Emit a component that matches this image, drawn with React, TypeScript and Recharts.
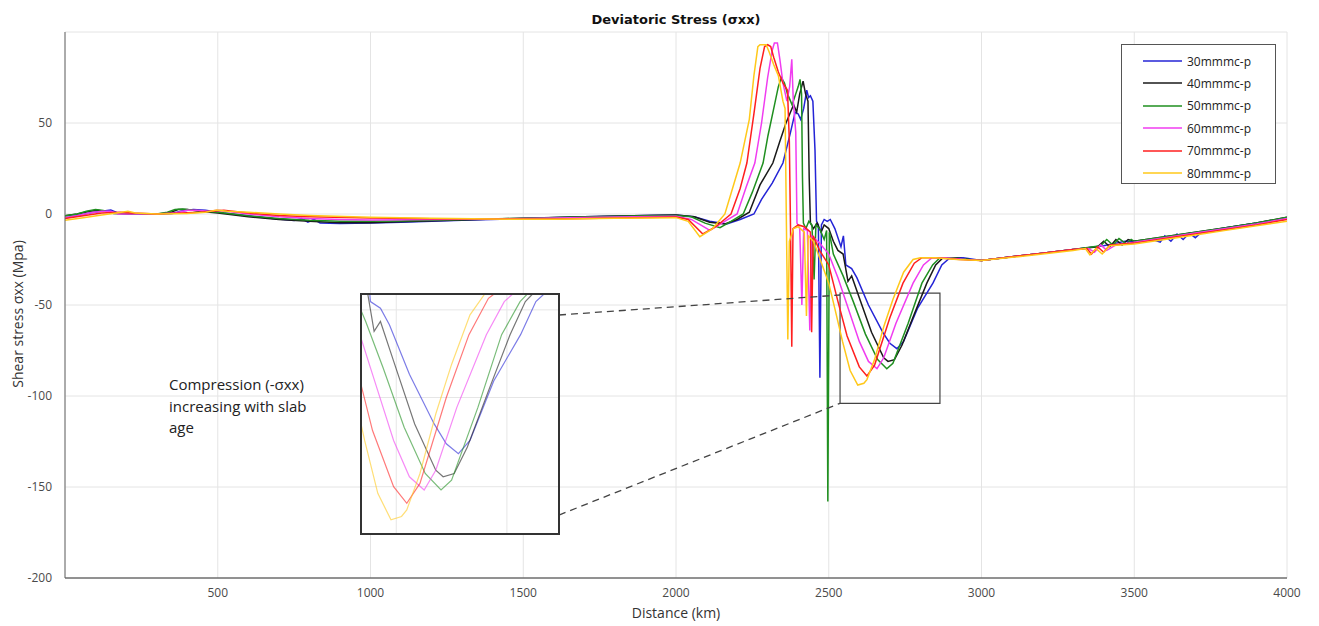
import React from 'react';
import { LineChart, Line, XAxis, YAxis, CartesianGrid, ReferenceArea, ReferenceLine } from 'recharts';

type Pt = [number, number];

const s30: Pt[] = [
  [0,-2],[40,-1],[80,0.5],[120,1.5],[150,2.2],[175,0.5],[220,0],[300,0],[350,0.3],[380,1.5],[420,2.5],[460,2],[520,0.5],[600,-1],[680,-2.5],[750,-3.5],[775,-2.5],[795,-4.5],[815,-3],[835,-5],[900,-5.2],[1000,-5],[1100,-4.5],[1300,-3.5],[1500,-2.5],[1700,-1.5],[1900,-0.8],[2000,-0.5],[2060,-1.5],[2110,-4],[2166,-5.5],[2210,-3],[2255,0],[2280,8],[2315,17],[2350,28],[2375,45],[2390,56],[2400,55],[2408,52],[2418,58],[2428,68],[2434,64],[2440,65],[2448,62],[2455,35],[2460,-4],[2466,-6],[2471,-90],[2476,-6],[2485,-3],[2495,-4],[2505,-3],[2520,-8],[2540,-18],[2548,-12],[2556,-28],[2575,-30],[2592,-35],[2630,-50],[2677,-65],[2700,-71],[2723,-74],[2745,-70],[2790,-52],[2841,-38],[2870,-28],[2897,-24],[2940,-24],[3000,-25.5],[3100,-23.5],[3200,-21.5],[3300,-19.5],[3400,-17.5],[3440,-16],[3470,-15],[3500,-15],[3560,-14],[3585,-15.5],[3600,-12],[3620,-15],[3640,-11],[3660,-14],[3680,-10.5],[3700,-13],[3720,-10],[3800,-7.5],[3900,-5],[4000,-2]
];
const s40: Pt[] = [
  [0,-1],[40,0],[80,1.5],[105,2],[130,1.5],[160,0.3],[220,0],[300,0],[340,0.5],[370,2.5],[400,2.5],[440,1.5],[500,0.5],[600,-1.5],[700,-3],[800,-4],[900,-4.8],[1000,-4.8],[1100,-4.3],[1300,-3.3],[1500,-2.3],[1700,-1.5],[1900,-0.8],[2000,-0.5],[2060,-1.5],[2110,-4.5],[2160,-5.5],[2200,-3],[2240,1],[2275,16],[2317,28],[2340,40],[2360,50],[2375,56],[2385,60],[2395,56],[2405,66],[2416,73],[2424,66],[2432,62],[2436,20],[2440,-5],[2450,-8],[2462,-5],[2475,-10],[2485,-6],[2500,-8],[2515,-15],[2530,-20],[2547,-22],[2563,-37],[2575,-34],[2600,-46],[2640,-65],[2680,-79],[2694,-81],[2715,-80],[2740,-72],[2780,-55],[2821,-38],[2850,-28],[2874,-24],[2910,-24],[2960,-25],[3000,-25.5],[3100,-23.5],[3200,-21.5],[3300,-19.5],[3380,-18],[3400,-15],[3420,-18],[3440,-14],[3460,-17],[3480,-14],[3500,-15],[3600,-12.5],[3700,-10],[3800,-7.5],[3900,-5],[4000,-1.8]
];
const s50: Pt[] = [
  [0,-1],[40,0],[70,1.5],[100,2.5],[125,2],[150,0.5],[220,0],[300,0],[335,1],[360,2.5],[385,2.8],[420,2],[460,1.5],[500,1],[600,-1],[700,-2.5],[800,-3.5],[900,-4],[1000,-4],[1100,-3.8],[1300,-3],[1500,-2.3],[1700,-1.6],[1900,-1],[2000,-0.8],[2050,-1.5],[2095,-5],[2144,-7.5],[2180,-4],[2220,0],[2250,12],[2285,28],[2301,43],[2320,58],[2335,70],[2345,75],[2355,72],[2365,66],[2380,60],[2392,66],[2400,70],[2406,74],[2411,66],[2414,20],[2417,-5],[2425,-8],[2435,-4],[2445,-6],[2452,-36],[2458,-6],[2470,-8],[2485,-14],[2493,-9],[2497,-158],[2502,-10],[2515,-22],[2547,-34],[2580,-48],[2620,-66],[2660,-80],[2690,-85],[2710,-82],[2760,-60],[2805,-38],[2840,-28],[2864,-24],[2900,-24],[2960,-25],[3000,-25.5],[3100,-23.5],[3200,-21.5],[3300,-19.5],[3390,-17.5],[3410,-14],[3430,-17],[3450,-13.5],[3475,-16.5],[3490,-14],[3500,-15],[3600,-12.5],[3700,-10],[3800,-7.5],[3900,-5],[4000,-1.8]
];
const s60: Pt[] = [
  [0,-2],[40,-1],[80,0.5],[120,1.5],[150,1.5],[175,0],[220,0],[300,0],[360,0.5],[400,2],[430,2],[470,1.5],[500,2],[600,0],[700,-1.5],[800,-2.5],[900,-3],[1000,-3.3],[1200,-3],[1400,-2.8],[1600,-2.2],[1800,-1.6],[2000,-1.3],[2050,-3],[2111,-9],[2150,-5],[2200,0],[2230,15],[2258,28],[2280,50],[2300,75],[2315,90],[2322,94],[2332,94],[2340,85],[2350,72],[2363,62],[2372,70],[2379,85],[2384,62],[2392,45],[2396,-5],[2405,-8],[2412,-50],[2418,-8],[2430,-9],[2438,-64],[2444,-12],[2470,-16],[2500,-22],[2530,-35],[2560,-50],[2600,-70],[2630,-81],[2658,-85],[2680,-79],[2720,-60],[2776,-38],[2810,-28],[2838,-24],[2880,-24],[2950,-25],[3000,-25.5],[3100,-23.5],[3200,-21.5],[3300,-19.5],[3350,-19],[3370,-21],[3390,-17],[3410,-20],[3440,-17],[3500,-15.5],[3600,-13],[3700,-10.5],[3800,-8],[3900,-5.5],[4000,-2.5]
];
const s70: Pt[] = [
  [0,-2.5],[60,-1],[120,0.5],[180,1],[220,0.5],[300,0],[380,0.5],[440,1],[480,1.5],[520,2],[600,0.5],[700,-0.8],[800,-1.5],[1000,-2.2],[1200,-2.6],[1400,-2.7],[1600,-2.7],[1800,-2.2],[2000,-1.7],[2040,-3],[2088,-11],[2130,-7],[2180,0],[2210,14],[2232,28],[2255,55],[2275,80],[2290,92],[2300,93],[2310,92],[2320,86],[2335,78],[2350,72],[2365,68],[2371,40],[2375,-10],[2379,-73],[2383,-8],[2400,-6],[2420,-7],[2440,-10],[2444,-65],[2449,-12],[2470,-20],[2500,-28],[2530,-48],[2560,-67],[2600,-84],[2625,-89],[2650,-83],[2700,-57],[2743,-38],[2780,-27],[2805,-24],[2850,-24],[2930,-25],[3000,-25.5],[3100,-23.5],[3200,-21.5],[3300,-19.5],[3345,-19],[3360,-22],[3380,-18],[3400,-21],[3420,-17],[3500,-16],[3600,-13.5],[3700,-11],[3800,-8.5],[3900,-6],[4000,-3]
];
const s80: Pt[] = [
  [0,-3.5],[60,-2],[120,-0.5],[180,0.8],[206,1.5],[230,0.5],[300,0],[400,0.3],[460,1],[497,2.2],[530,1.5],[600,1],[700,0],[800,-0.8],[1000,-1.8],[1200,-2.4],[1400,-2.8],[1600,-2.9],[1800,-2.4],[2000,-2],[2040,-4],[2078,-12.5],[2120,-8],[2160,0],[2185,14],[2210,28],[2240,52],[2255,76],[2268,92],[2275,93],[2295,93],[2305,89],[2320,82],[2335,76],[2350,62],[2357,58],[2361,0],[2366,-69],[2371,-15],[2385,-8],[2400,-7],[2420,-10],[2427,-56],[2433,-12],[2450,-15],[2470,-24],[2500,-38],[2520,-52],[2545,-70],[2570,-86],[2595,-94],[2615,-93],[2625,-91],[2650,-80],[2680,-62],[2710,-47],[2745,-32],[2776,-25],[2800,-24],[2850,-24],[2920,-25],[3000,-25.5],[3100,-23.8],[3200,-22],[3300,-20],[3340,-19],[3355,-22.5],[3375,-19],[3395,-22],[3420,-17.5],[3500,-16.5],[3600,-14],[3700,-11.5],[3800,-9],[3900,-6.5],[4000,-4]
];

const seriesData = [s30, s40, s50, s60, s70, s80];
const seriesNames = ['30mmmc-p', '40mmmc-p', '50mmmc-p', '60mmmc-p', '70mmmc-p', '80mmmc-p'];
const seriesColors = ['#2424d6', '#1a1a1a', '#1f8f1f', '#f03cf0', '#ff1f1f', '#ffc81a'];

const xTicks = [500, 1000, 1500, 2000, 2500, 3000, 3500, 4000];
const yTicks = [-200, -150, -100, -50, 0, 50];
const xDomain: [number, number] = [0, 4000];
const yDomain: [number, number] = [-200, 100];

const zoomBox = { x1: 2537, x2: 2864, y1: -104, y2: -43.5 };
const connectorTop: Pt[] = [[1617, -55.5], [2537, -44.5]];
const connectorBottom: Pt[] = [[1617, -165.4], [2537, -104]];
const insetXDomain: [number, number] = [2540, 2912];
const insetYDomain: [number, number] = [-98, -26];
const insetGridX = [2605, 2815];
const insetGridY = [-30.5, -57, -84];

const toRows = (pts: Pt[]) => pts.map(([x, y]) => ({ x, y }));

const FONT = "'Open Sans', 'DejaVu Sans', sans-serif";

export default function App() {
  const rows = seriesData.map(toRows);
  return (
    <div style={{ position: 'relative', width: 1311, height: 618, fontFamily: FONT }}>
      <LineChart width={1311} height={618} margin={{ top: 24, right: 32, left: 0, bottom: 0 }}>
        <CartesianGrid stroke="#e4e4e4" strokeWidth={1} />
        <XAxis
          type="number"
          dataKey="x"
          domain={xDomain}
          ticks={xTicks}
          height={48}
          tickLine={false}
          tickMargin={4}
          stroke="#333"
          tick={{ fontSize: 12, fill: '#4a4a4a', fontFamily: FONT }}
          allowDataOverflow
        />
        <YAxis
          type="number"
          dataKey="y"
          domain={yDomain}
          ticks={yTicks}
          width={57}
          tickLine={false}
          tickMargin={13}
          tickSize={0}
          stroke="#666"
          tick={{ fontSize: 12, fill: '#4a4a4a', fontFamily: FONT }}
          allowDataOverflow
        />
        {rows.map((d, i) => (
          <Line
            key={seriesNames[i]}
            data={d}
            dataKey="y"
            name={seriesNames[i]}
            type="linear"
            stroke={seriesColors[i]}
            strokeWidth={1.5}
            dot={false}
            isAnimationActive={false}
          />
        ))}
        <ReferenceArea x1={zoomBox.x1} x2={zoomBox.x2} y1={zoomBox.y1} y2={zoomBox.y2} fill="none" fillOpacity={0} stroke="#444" strokeWidth={1.2} />
        <ReferenceLine segment={connectorTop.map(([x, y]) => ({ x, y }))} stroke="#444" strokeWidth={1.3} strokeDasharray="7 5" />
        <ReferenceLine segment={connectorBottom.map(([x, y]) => ({ x, y }))} stroke="#444" strokeWidth={1.3} strokeDasharray="7 5" />
      </LineChart>

      <div style={{ position: 'absolute', left: 0, top: 4, width: 1311, textAlign: 'center', paddingLeft: 25, boxSizing: 'border-box', fontFamily: "'DejaVu Sans', sans-serif", fontWeight: 'bold', fontSize: 13, color: '#111' }}>
        Deviatoric Stress (σxx)
      </div>
      <div style={{ position: 'absolute', left: 57, width: 1222, top: 595, textAlign: 'center', fontSize: 14, color: '#333' }}>
        Distance (km)
      </div>
      <div style={{ position: 'absolute', left: 9, top: 306, transform: 'translate(-50%, -50%) rotate(-90deg)', whiteSpace: 'nowrap', fontSize: 14, color: '#333' }}>
        Shear stress σxx (Mpa)
      </div>
      <div style={{ position: 'absolute', left: 161, top: 366, fontSize: 15, lineHeight: '21.5px', color: '#222' }}>
        Compression (-σxx)<br />increasing with slab<br />age
      </div>

      <div style={{ position: 'absolute', left: 1113, top: 36, width: 155, height: 140, border: '1px solid #555', background: '#fff', boxSizing: 'border-box' }}>
        {seriesNames.map((n, i) => (
          <div key={n} style={{ position: 'absolute', left: 0, top: 5 + i * 22.4, height: 22, display: 'flex', alignItems: 'center' }}>
            <svg width={62} height={4} style={{ marginLeft: 21 }}>
              <line x1={0} y1={2} x2={39} y2={2} stroke={seriesColors[i]} strokeWidth={1.5} />
            </svg>
            <span style={{ fontSize: 12, color: '#222', marginLeft: -18 }}>{n}</span>
          </div>
        ))}
      </div>

      <div style={{ position: 'absolute', left: 352, top: 285, width: 200, height: 242, border: '2px solid #333', background: '#fff', boxSizing: 'border-box' }}>
        <LineChart width={196} height={238} margin={{ top: 0, right: 0, left: 0, bottom: 0 }}>
          <XAxis type="number" dataKey="x" domain={insetXDomain} hide allowDataOverflow />
          <YAxis type="number" dataKey="y" domain={insetYDomain} hide allowDataOverflow />
          {insetGridX.map((v) => (
            <ReferenceLine key={'gx' + v} x={v} stroke="#e6e6e6" strokeWidth={1} />
          ))}
          {insetGridY.map((v) => (
            <ReferenceLine key={'gy' + v} y={v} stroke="#e6e6e6" strokeWidth={1} />
          ))}
          {rows.map((d, i) => (
            <Line
              key={'inset' + seriesNames[i]}
              data={d}
              dataKey="y"
              type="linear"
              stroke={seriesColors[i]}
              strokeOpacity={0.6}
              strokeWidth={1.2}
              dot={false}
              isAnimationActive={false}
            />
          ))}
        </LineChart>
      </div>
    </div>
  );
}
